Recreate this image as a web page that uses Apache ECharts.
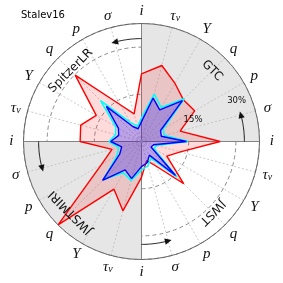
<!DOCTYPE html>
<html><head><meta charset="utf-8">
<script src="https://cdn.jsdelivr.net/npm/echarts@6/dist/echarts.min.js"></script>
<style>html,body{margin:0;padding:0;background:#fff}#c{width:283px;height:283px}</style>
</head><body><div id="c"></div>
<script>
const title = 'Stalev16';
const angles = [0,15,30,45,60,75,90,105,120,135,150,165,180,195,210,225,240,255,270,285,300,315,330,345];
const angleLabels = ['i','σ','p','q','Y','τν','i','σ','p','q','Y','τν','i','σ','p','q','Y','τν','i','σ','p','q','Y','τν'];
const redValues  = [25,12.7,19.5,18.8,21.3,25,21.5,9.1,13.5,29.8,16.6,20,19.5,9.7,14.8,37.5,17.5,22.8,11.4,6.3,8.9,19,9.3,12.8];
const cyanValues = [14.8,7.5,8,19.2,12.5,15.6,7.5,5,7,18.4,9.5,8.5,10.3,7.5,9,17,11.5,12.8,9,8,6,16,4.5,5];
const blueValues = [14.3,6.5,7,18.4,11.6,14.3,6.3,4.2,5.5,15.8,8.5,7.5,9.8,6.5,8,17.5,10.4,12.2,8,7,5,15.3,3.5,4];
const quadrantNames = ['GTC','SpitzerLR','JWSTMIRI','JWST'];
const quadrantAngles = [45,135,225,315];
const ringTicks = [15,30];
const ringLabels = ['15%','30%'];

function pairs(vals){ const d = vals.map((v,i)=>[v, angles[i]]); d.push([vals[0], 360]); return d; }
function richLabel(k){ return k==='τν' ? '{it|τ}{sub|ν}' : '{it|'+k+'}'; }

const chart = echarts.init(document.getElementById('c'), null, {renderer:'canvas'});
const spokeColors = ['rgba(0,0,0,0)','#bdbdbd','#bdbdbd','#bdbdbd','#bdbdbd','#bdbdbd'];
chart.setOption({
  animation:false,
  title:{text:title, left:21, top:10, padding:0, textStyle:{fontSize:10, fontWeight:'normal', fontFamily:'DejaVu Sans', color:'#000'}},
  polar:[{center:['50%','50%'], radius:118},{center:['50%','50%'], radius:118}],
  angleAxis:[
    {polarIndex:0, type:'value', min:0, max:360, interval:90, startAngle:0, clockwise:false,
     axisLine:{show:false}, axisTick:{show:false}, axisLabel:{show:false},
     splitLine:{show:true, lineStyle:{color:'#222', width:1}},
     splitArea:{show:true, areaStyle:{color:['#e6e6e6','rgba(255,255,255,0)']}}},
    {polarIndex:1, type:'value', min:0, max:360, interval:15, startAngle:0, clockwise:false,
     axisLine:{show:true, lineStyle:{color:'#666', width:1}}, axisTick:{show:false},
     axisLabel:{show:false},
     splitLine:{show:true, lineStyle:{color:spokeColors, width:0.8, type:[2,2]}}}
  ],
  radiusAxis:[
    {polarIndex:0, type:'value', min:0, max:37.5, axisLine:{show:false}, axisTick:{show:false}, axisLabel:{show:false}, splitLine:{show:false}},
    {polarIndex:1, type:'value', min:0, max:37.5, interval:15, axisLine:{show:false}, axisTick:{show:false}, axisLabel:{show:false},
     splitLine:{show:true, lineStyle:{color:'#8a8a8a', width:1, type:[4,3]}}}
  ],
  series:[
    {type:'line', coordinateSystem:'polar', polarIndex:1, data:pairs(redValues), symbol:'none', clip:false,
     lineStyle:{color:'#ff0000', width:1.4}, areaStyle:{color:'rgba(255,0,0,0.2)', origin:'start'}, z:2},
    {type:'line', coordinateSystem:'polar', polarIndex:1, data:pairs(cyanValues), symbol:'none', clip:false,
     lineStyle:{color:'#00ffff', width:1.6}, z:3},
    {type:'line', coordinateSystem:'polar', polarIndex:1, data:pairs(blueValues), symbol:'none', clip:false,
     lineStyle:{color:'#0000ff', width:1.4}, areaStyle:{color:'rgba(0,0,255,0.38)', origin:'start'}, z:4}
  ]
});

const P = (r,a) => chart.convertToPixel({polarIndex:1}, [r,a]);
const g = [];
const labelRich = {
  it:{fontFamily:'Liberation Serif', fontStyle:'italic', fontSize:15, fill:'#111'},
  sub:{fontFamily:'Liberation Serif', fontStyle:'italic', fontSize:10, fill:'#111', verticalAlign:'bottom', padding:[5,0,0,0]}
};
angles.forEach((a,i)=>{
  const p = P(41.4, a);
  g.push({type:'text', x:p[0], y:p[1], z:10,
    style:{text:richLabel(angleLabels[i]), rich:labelRich, align:'center', verticalAlign:'middle'}});
});
quadrantNames.forEach((name,i)=>{
  const a = quadrantAngles[i];
  const p = P(31.8, a);
  g.push({type:'text', x:p[0], y:p[1], rotation:(a-90)*Math.PI/180, z:10,
    style:{text:name, fill:'#111', fontSize:12, fontFamily:'DejaVu Sans', align:'center', verticalAlign:'middle'}});
});
const ringLabelPos = [[17.8,23],[32.9,23.3]];
ringLabels.forEach((t,i)=>{
  const p = P(ringLabelPos[i][0], ringLabelPos[i][1]);
  g.push({type:'text', x:p[0], y:p[1], z:10, style:{text:t, fill:'#111', fontSize:8.5, fontFamily:'DejaVu Sans', align:'center', verticalAlign:'middle'}});
});
[0,90,180,270].forEach(a0=>{
  const a1 = a0+17, R = 32.7;
  const pts = [];
  for(let a=a0; a<=a1-2.5; a+=0.5) pts.push(P(R,a));
  g.push({type:'polyline', z:10, shape:{points:pts}, style:{stroke:'#111', lineWidth:1, fill:null}});
  g.push({type:'polygon', z:10, shape:{points:[P(R,a1), P(R+1,a1-3.8), P(R-1,a1-3.8)]}, style:{fill:'#111'}});
});
chart.setOption({graphic:g});
</script></body></html>
